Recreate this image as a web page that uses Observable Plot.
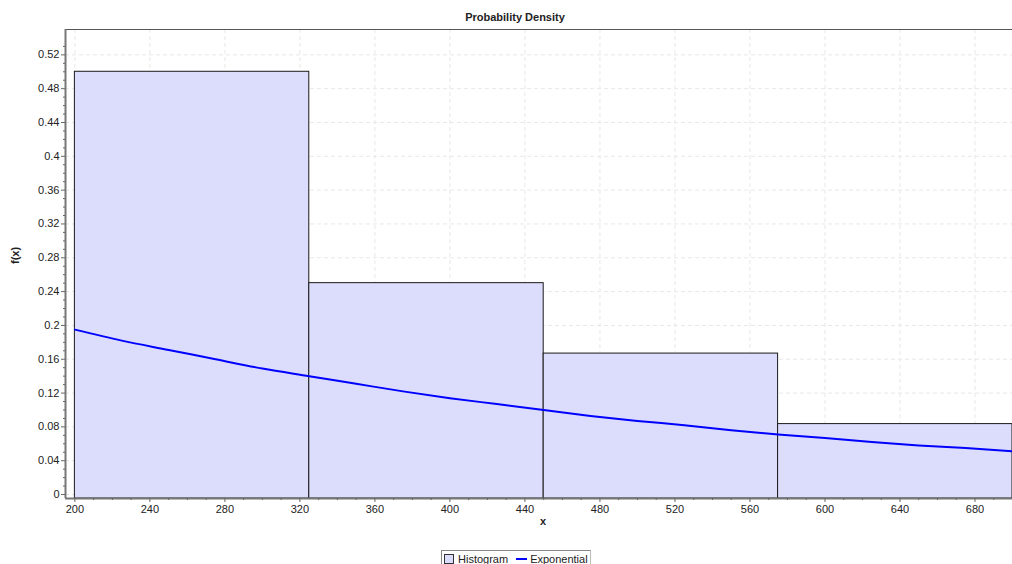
<!DOCTYPE html>
<html>
<head>
<meta charset="utf-8">
<script src="https://cdn.jsdelivr.net/npm/d3@7"></script>
<script src="https://cdn.jsdelivr.net/npm/@observablehq/plot@0.6"></script>
<style>
  html, body { margin: 0; padding: 0; background: #fff; }
  #wrap { position: relative; width: 1012px; height: 564px; overflow: hidden; font-family: "Liberation Sans", Arial, sans-serif; }
  #title { position: absolute; left: 0; width: 1030px; top: 11px; text-align: center; font-weight: bold; font-size: 11px; color: #222; }
  #chart { position: absolute; left: 0; top: 0; }
  #legend { position: absolute; left: 441px; top: 550px; width: 150px; height: 18px; border: 1px solid #888; border-right-color: #bbb; font-size: 11px; color: #222; box-sizing: border-box; white-space: nowrap; padding-left: 2px; line-height: 14px; }
  #legend span { display: inline-block; vertical-align: middle; flex-shrink: 0; }
  .sw { width: 8px; height: 8px; background: #dcdcfc; border: 1px solid #333; margin-right: 4px; }
  .ln { width: 11px; height: 2px; background: #0000ff; margin-left: 8px; margin-right: 3px; }
</style>
</head>
<body>
<div id="wrap">
  <div id="title">Probability Density</div>
  <div id="chart"></div>
  <div id="legend"><span class="sw"></span><span>Histogram</span><span class="ln"></span><span>Exponential</span></div>
</div>
<script>
// Histogram bins (edges) and densities
const binEdges = [200, 325, 450, 575, 700];
const densities = [0.5, 0.25, 0.1667, 0.0833];

// Exponential fitted curve
const curveX = [200, 225, 250, 275, 300, 325, 350, 375, 400, 425, 450, 475, 500, 525, 550, 575, 600, 625, 650, 675, 700];
const curveY = [0.195, 0.182, 0.171, 0.160, 0.149, 0.140, 0.131, 0.122, 0.114, 0.107, 0.100, 0.093, 0.087, 0.082, 0.076, 0.071, 0.067, 0.062, 0.058, 0.055, 0.051];

// Tick labels
const xTicks = [200, 240, 280, 320, 360, 400, 440, 480, 520, 560, 600, 640, 680];
const yTicks = [0, 0.04, 0.08, 0.12, 0.16, 0.2, 0.24, 0.28, 0.32, 0.36, 0.4, 0.44, 0.48, 0.52];
const yTickLabels = ["0", "0.04", "0.08", "0.12", "0.16", "0.2", "0.24", "0.28", "0.32", "0.36", "0.4", "0.44", "0.48", "0.52"];
const xMinor = d3.range(200, 701, 10).filter(v => !xTicks.includes(v));
const yMinor = d3.range(0, 54).map(i => +(i * 0.01).toFixed(2)).filter(v => !yTicks.includes(v));

const bins = densities.map((d, i) => ({x1: binEdges[i], x2: binEdges[i + 1], y: d}));
const curve = curveX.map((x, i) => ({x, y: curveY[i]}));

const xDomain = [195, 700];
const yDomain = [-0.0047, 0.55];

const chart = Plot.plot({
  width: 1012,
  height: 540,
  marginLeft: 65,
  marginRight: 0,
  marginTop: 29,
  marginBottom: 42,
  style: {fontFamily: "Liberation Sans, Arial, sans-serif", fontSize: "11px", color: "#222", background: "transparent"},
  x: {domain: xDomain, axis: null},
  y: {domain: yDomain, axis: null},
  marks: [
    Plot.gridX(xTicks, {stroke: "#e8e8e8", strokeOpacity: 1, strokeDasharray: "4,3"}),
    Plot.gridY(yTicks, {stroke: "#e8e8e8", strokeOpacity: 1, strokeDasharray: "4,3"}),
    Plot.rect(bins, {x1: "x1", x2: "x2", y1: 0, y2: "y", fill: "#dcdcfc", stroke: "#1a1a1a", strokeWidth: 1, insetBottom: -4}),
    Plot.line(curve, {x: "x", y: "y", stroke: "#0000ff", strokeWidth: 2, curve: "monotone-x"}),
    Plot.ruleY([yDomain[1]], {stroke: "#555", strokeWidth: 1}),
    Plot.ruleX([xDomain[0]], {stroke: "#777", strokeWidth: 2}),
    Plot.ruleY([yDomain[0]], {stroke: "#777", strokeWidth: 2}),
    Plot.axisX(xTicks, {anchor: "bottom", tickSize: 4, tickPadding: 3, stroke: "#666", fill: "#222", label: null}),
    Plot.axisX(xMinor, {anchor: "bottom", tickSize: 2, text: null, stroke: "#666", label: null}),
    Plot.axisY(yTicks, {anchor: "left", tickSize: 4, tickPadding: 2, stroke: "#666", fill: "#222", tickFormat: (d) => yTickLabels[yTicks.indexOf(d)], label: null}),
    Plot.axisY(yMinor, {anchor: "left", tickSize: 2, text: null, stroke: "#666", label: null}),
    Plot.text(["f(x)"], {frameAnchor: "left", dx: -50, rotate: -90, fontWeight: "bold", fontSize: 11, fill: "#222"}),
    Plot.text(["x"], {frameAnchor: "bottom", dx: 4, dy: 26, fontWeight: "bold", fontSize: 11, fill: "#222"})
  ]
});
document.getElementById("chart").appendChild(chart);
</script>
</body>
</html>
